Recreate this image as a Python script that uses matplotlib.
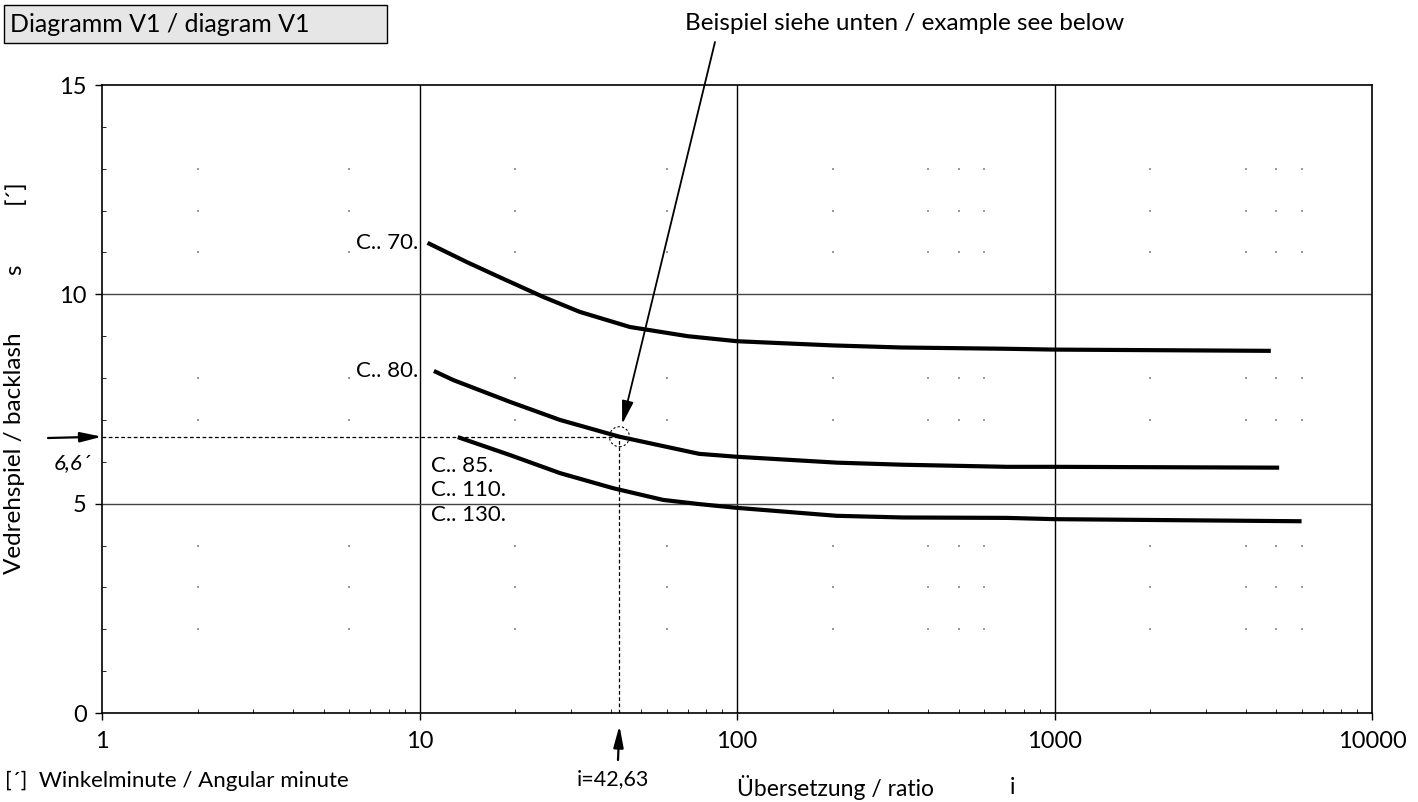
import numpy as np
import matplotlib.pyplot as plt
from matplotlib.patches import Circle, Rectangle
from matplotlib.transforms import ScaledTranslation

plt.rcParams['font.family'] = ['Lato', 'DejaVu Sans']

# backlash curves
ratio_c70 = [10.6, 14.1, 18, 24.5, 32, 46, 70, 100, 200, 330, 700, 1000, 4800]
backlash_c70 = [11.23, 10.77, 10.4, 9.94, 9.58, 9.22, 9.0, 8.88, 8.78, 8.73, 8.70, 8.68, 8.65]
ratio_c80 = [11.1, 12.8, 19.3, 27.7, 42.6, 76, 100, 206, 333, 708, 1000, 5100]
backlash_c80 = [8.17, 7.95, 7.43, 7.0, 6.6, 6.19, 6.12, 5.98, 5.93, 5.88, 5.88, 5.86]
ratio_c85 = [13.2, 19.3, 27.7, 40.7, 58.5, 76, 100, 206, 333, 708, 1000, 6000]
backlash_c85 = [6.59, 6.16, 5.73, 5.37, 5.09, 4.99, 4.9, 4.71, 4.67, 4.66, 4.63, 4.58]

example_ratio = 42.63
example_backlash = 6.6

x_ticks = [1, 10, 100, 1000, 10000]
y_ticks = [0, 5, 10, 15]

W, H = 1418, 802
fig = plt.figure(figsize=(W / 100, H / 100), dpi=100)
ax = fig.add_axes([102 / W, 1 - 713 / H, 1270 / W, 628 / H])

ax.set_xscale('log')
ax.set_xlim(1, 10000)
ax.set_ylim(0, 15)

# major grid
for xv in x_ticks[1:-1]:
    ax.axvline(xv, color='black', lw=1.0, zorder=1)
for yv in [5, 10]:
    ax.axhline(yv, color='#444444', lw=1.0, zorder=1)

# faint minor grid dots
dot_x = []
for dec in [1, 10]:
    dot_x += [2 * dec, 6 * dec]
for dec in [100, 1000]:
    dot_x += [2 * dec, 4 * dec, 5 * dec, 6 * dec]
dot_y = [2, 3, 4, 7, 8, 11, 12, 13]
gx, gy = np.meshgrid(dot_x, dot_y)
ax.scatter(gx.ravel(), gy.ravel(), s=0.8, color='#9a9a9a', marker='s', lw=0, zorder=1)

# curves
for xs, ys in [(ratio_c70, backlash_c70), (ratio_c80, backlash_c80), (ratio_c85, backlash_c85)]:
    ax.plot(xs, ys, color='black', lw=3, solid_capstyle='butt', zorder=3)

# example: dashed guides
ax.plot([1, example_ratio], [example_backlash, example_backlash], color='black', lw=0.9, ls=(0, (3, 2)), zorder=2)
ax.plot([example_ratio, example_ratio], [0, example_backlash], color='black', lw=0.9, ls=(0, (3, 2)), zorder=2)
circ_tr = fig.dpi_scale_trans + ScaledTranslation(example_ratio, example_backlash, ax.transData)
ax.add_patch(Circle((0, 0), 0.1, transform=circ_tr, fill=False, ls=(0, (2, 2)), lw=0.8, zorder=4))

# curve labels
ax.text(9.9, 11.23, 'C.. 70.', ha='right', va='center', fontsize=16)
ax.text(9.9, 8.17, 'C.. 80.', ha='right', va='center', fontsize=16)
ax.text(10.9, 5.9, 'C.. 85.', ha='left', va='center', fontsize=16)
ax.text(10.9, 5.33, 'C.. 110.', ha='left', va='center', fontsize=16)
ax.text(10.9, 4.73, 'C.. 130.', ha='left', va='center', fontsize=16)

# ticks
ax.set_xticks(x_ticks)
ax.set_xticklabels([str(v) for v in x_ticks])
ax.set_yticks(y_ticks)
ax.set_yticklabels([str(v) for v in y_ticks])
ax.set_xticks([m * d for d in [1, 10, 100, 1000] for m in range(2, 10)], minor=True)
ax.set_yticks([v for v in range(16) if v % 5], minor=True)
ax.tick_params(axis='both', which='major', direction='out', length=5, width=1, labelsize=17, pad=8)
ax.tick_params(axis='both', which='minor', direction='in', length=3, width=0.6, labelbottom=False)
ax.tick_params(axis='y', which='major', pad=6)
for sp in ax.spines.values():
    sp.set_linewidth(1.2)

# annotation arrow from note text
ax.annotate('', xy=(example_ratio * 1.02, 6.9), xycoords='data',
            xytext=(715 / W, 1 - 42 / H), textcoords='figure fraction',
            arrowprops=dict(arrowstyle='-|>,head_length=1.4,head_width=0.35', color='black', lw=1.3,
                            shrinkA=0, shrinkB=0))
fig.text(685 / W, 1 - 23 / H, 'Beispiel siehe unten / example see below', ha='left', va='center', fontsize=17.5)

# example arrows outside axes
ax.annotate('', xy=(1.0, example_backlash), xycoords='data',
            xytext=(48 / W, 1 - 438 / H), textcoords='figure fraction',
            arrowprops=dict(arrowstyle='-|>,head_length=1.3,head_width=0.3', color='black', lw=1.6,
                            shrinkA=0, shrinkB=0), annotation_clip=False)
ax.annotate('', xy=(example_ratio, -0.3), xycoords='data',
            xytext=(618 / W, 1 - 760 / H), textcoords='figure fraction',
            arrowprops=dict(arrowstyle='-|>,head_length=1.3,head_width=0.3', color='black', lw=1.6,
                            shrinkA=0, shrinkB=0), annotation_clip=False)
fig.text(72 / W, 1 - 463 / H, '6,6´', ha='center', va='center', fontsize=16, style='italic')
fig.text(613 / W, 1 - 779 / H, 'i=42,63', ha='center', va='center', fontsize=15.5)

# title box
fig.patches.append(Rectangle((4 / W, 1 - 43 / H), 383 / W, 38 / H, transform=fig.transFigure,
                             facecolor='#e6e6e6', edgecolor='black', lw=1))
fig.text(10 / W, 1 - 24 / H, 'Diagramm V1 / diagram V1', ha='left', va='center', fontsize=18)

# axis labels
fig.text(15 / W, 1 - 453 / H, 'Vedrehspiel / backlash', rotation=90, ha='center', va='center', fontsize=17.5)
fig.text(15 / W, 1 - 270 / H, 's', rotation=90, ha='center', va='center', fontsize=17.5)
fig.text(15 / W, 1 - 192 / H, '[´]', rotation=90, ha='center', va='center', fontsize=17.5)
fig.text(737 / W, 1 - 788 / H, 'Übersetzung / ratio', ha='left', va='center', fontsize=16.5)
fig.text(1012 / W, 1 - 788 / H, 'i', ha='center', va='center', fontsize=16.5)
fig.text(5 / W, 1 - 781 / H, '[´]  Winkelminute / Angular minute', ha='left', va='center', fontsize=16)

fig.savefig('out.png', dpi=100)
